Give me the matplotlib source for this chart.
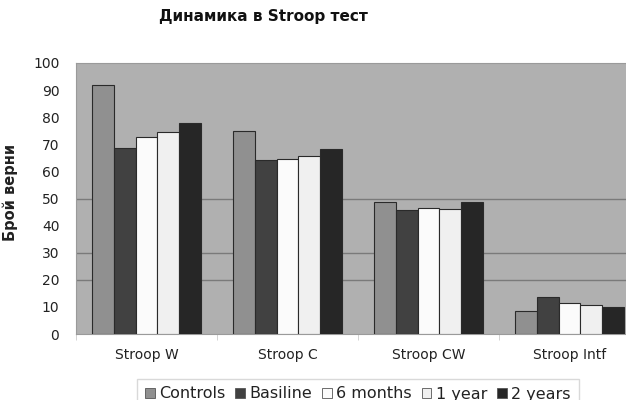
import numpy as np
import matplotlib
matplotlib.use('Agg')
import matplotlib.pyplot as plt
from matplotlib.patches import Patch

plt.rcParams['font.family'] = ['DejaVu Sans']

tests = ['Stroop W', 'Stroop C', 'Stroop CW', 'Stroop Intf']
series = ['Controls', 'Basiline', '6 months', '1 year', '2 years']
controls = [92, 75, 48.6, 8.4]
baseline = [68.8, 64.2, 45.8, 13.8]
months_6 = [72.6, 64.5, 46.5, 11.3]
year_1 = [74.7, 65.7, 46.2, 10.6]
years_2 = [77.7, 68.2, 48.6, 9.9]
grid_levels = [20, 30, 50]

values = [controls, baseline, months_6, year_1, years_2]
colors = ['#909090', '#414141', '#fbfbfb', '#f0f0f0', '#262626']

fig = plt.figure(figsize=(6.26, 4.0), dpi=100)
# plot area runs a little past the right edge of the figure
ax = fig.add_axes([76 / 626, 1 - 334 / 400, 564 / 626, 271 / 400])
ax.set_facecolor('#b0b0b0')

x = np.arange(len(tests))
w = 0.156
for i, (vals, col) in enumerate(zip(values, colors)):
    ax.bar(x + (i - 2) * w, vals, width=w, color=col,
           edgecolor='#2a2a2a', linewidth=0.8, zorder=3)

# only a few of the horizontal lines show up
for g in grid_levels:
    ax.axhline(g, color='#7a7a7a', linewidth=1.0, zorder=1)

ax.set_xlim(-0.5, 3.5)
ax.set_ylim(0, 100)
ax.set_yticks(range(0, 101, 10))
ax.set_yticks(grid_levels, minor=True)
ax.set_xticks(x)
ax.set_xticklabels(tests)
ax.set_xticks(np.arange(-0.5, 3.6, 1), minor=True)
ax.tick_params(axis='x', which='major', length=0, pad=10, labelsize=10,
               labelcolor='#222222')
ax.tick_params(axis='x', which='minor', length=4, color='#cccccc')
ax.tick_params(axis='y', which='major', length=0, pad=12, labelsize=10,
               labelcolor='#222222')
ax.tick_params(axis='y', which='minor', length=6, width=1.0, color='#7a7a7a')

for side in ['top', 'right', 'left', 'bottom']:
    ax.spines[side].set_color('#9a9a9a')

ax.set_ylabel('Брой верни', fontsize=10.5, fontweight='bold', color='#222222')
ax.yaxis.set_label_coords(-0.103, 0.524)
fig.text(263 / 626, 1 - 17 / 400, 'Динамика в Stroop тест', ha='center',
         va='center', fontsize=11, fontweight='bold', color='#111111')

handles = [Patch(facecolor=c, edgecolor='#555555', linewidth=0.6) for c in colors]
leg = fig.legend(handles, series, loc='center', bbox_to_anchor=(358 / 626, 1 - 394 / 400),
                 ncol=5, fontsize=11.5, frameon=True, handlelength=0.6,
                 handleheight=0.6, handletextpad=0.3, columnspacing=0.6,
                 borderpad=0.5, fancybox=False, edgecolor='#d0d0d0')
for t in leg.get_texts():
    t.set_color('#222222')

fig.savefig('out.png', dpi=100, facecolor='white')
